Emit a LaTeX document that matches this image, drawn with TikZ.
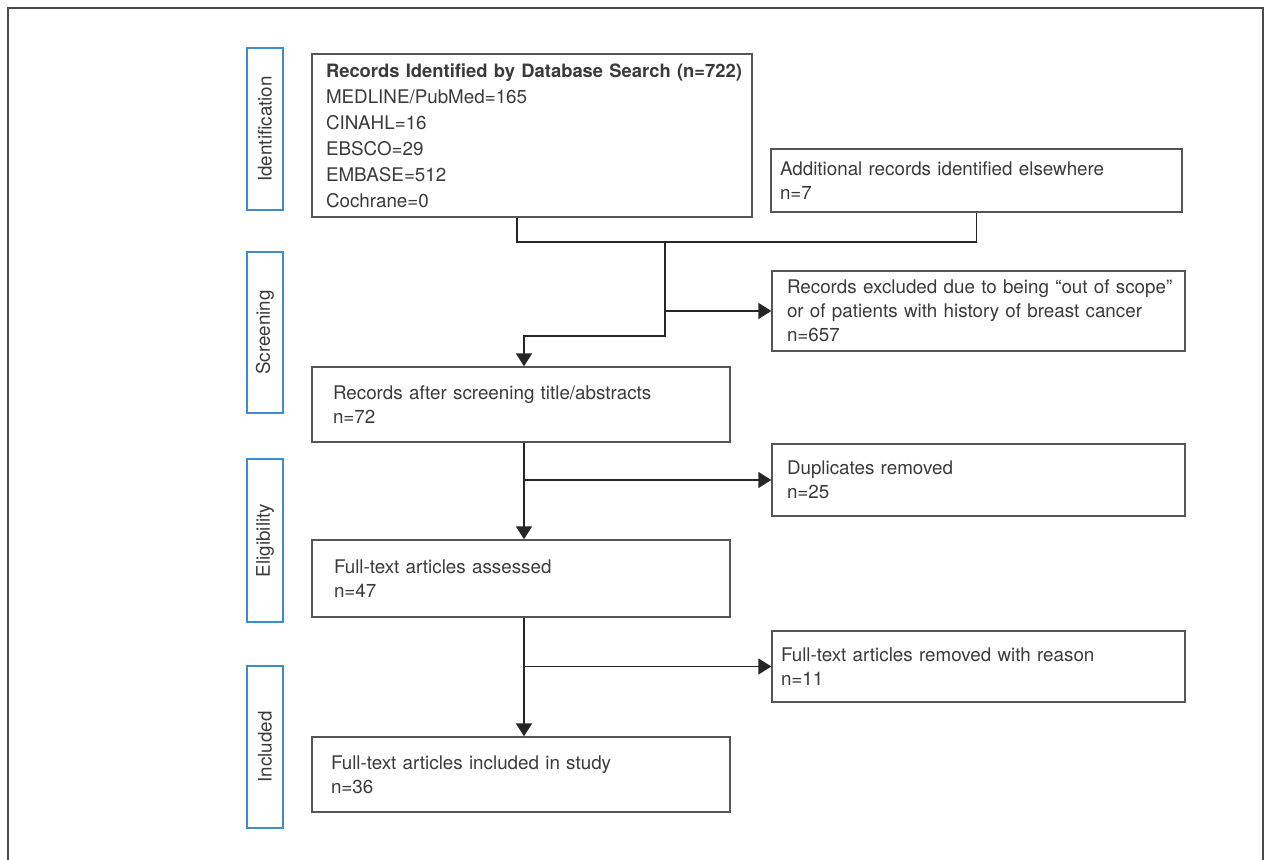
\documentclass[tikz,border=0pt]{standalone}
\usepackage{fontspec}
\setmainfont{TeX Gyre Heros}
\usetikzlibrary{arrows.meta,positioning,calc}
\definecolor{phaseblue}{HTML}{3F8CCB}
\definecolor{boxgray}{HTML}{555555}
\definecolor{inkgray}{HTML}{3A3A3A}

\begin{document}
\begin{tikzpicture}[x=0.5pt,y=-0.5pt,
    flowbox/.style={draw=boxgray, line width=0.7pt, align=left, text=inkgray,
      font=\fontsize{9.4}{12}\selectfont, inner ysep=0pt},
    phasebox/.style={draw=phaseblue, line width=0.9pt, rotate=90, text=inkgray,
      font=\fontsize{9.4}{12}\selectfont, minimum height=18pt, inner sep=0pt},
    link/.style={draw=black!85, line width=0.8pt},
    arrowlink/.style={link, -{Triangle[length=6.5pt,width=8pt]}}]
    \useasboundingbox (0,0) rectangle (1264,860);
    \draw[draw=black!70, line width=1pt] (8,870) -- (8,8) -- (1262.5,8) -- (1262.5,870);

    % phases
    \node[phasebox, minimum width=81pt] (idphase) at (265,129) {Identification};
    \node[phasebox, minimum width=80.5pt] (scphase) at (265,332.5) {Screening};
    \node[phasebox, minimum width=81.5pt] (elphase) at (265,540.5) {Eligibility};
    \node[phasebox, minimum width=81pt] (inphase) at (265,747) {Included};

    % boxes
    \node[flowbox, inner xsep=7pt, text width=206pt, minimum height=81.5pt,
      font=\fontsize{9.4}{13}\selectfont] (search) at (532,135.5)
      {\mbox{\fontsize{9.2}{13}\selectfont\textbf{Records Identified by Database Search (n=722)}}\\MEDLINE/PubMed=165\\CINAHL=16\\EBSCO=29\\EMBASE=512\\Cochrane=0};
    \node[flowbox, inner xsep=4.5pt, text width=196.5pt, minimum height=31.5pt] (extra) at (976.5,180.5)
      {Additional records identified elsewhere\\n=7};
    \node[flowbox, inner xsep=7.5pt, text width=191.5pt, minimum height=40pt] (excluded) at (978.5,311)
      {\mbox{Records excluded due to being “out of scope”}\\or of patients with history of breast cancer\\n=657};
    \node[flowbox, inner xsep=10.5pt, text width=188pt, minimum height=37.5pt] (screened) at (521,404.5)
      {Records after screening title/abstracts\\n=72};
    \node[flowbox, inner xsep=7.5pt, text width=191.5pt, minimum height=36pt] (dupes) at (978.5,480)
      {Duplicates removed\\n=25};
    \node[flowbox, inner xsep=11pt, text width=187pt, minimum height=38.5pt] (assessed) at (521,578.5)
      {Full-text articles assessed\\n=47};
    \node[flowbox, inner xsep=4.5pt, text width=197.5pt, minimum height=35.5pt] (removed) at (978.5,666.5)
      {Full-text articles removed with reason\\n=11};
    \node[flowbox, inner xsep=9.5pt, text width=190pt, minimum height=37.5pt] (final) at (521,774.5)
      {Full-text articles included in study\\n=36};

    % connectors
    \coordinate (merge) at (665,242);
    \coordinate (bend) at (665,336);
    \coordinate (spine) at (524,0);
    \draw[link] ([xshift=-7.5pt]search.south) |- (merge) -| (extra.south);
    \draw[arrowlink] (merge) -- (bend) -| (screened.north -| spine);
    \draw[arrowlink] (excluded.west -| merge) -- (excluded.west);
    \draw[arrowlink] (screened.south -| spine) -- (assessed.north -| spine);
    \draw[arrowlink] (dupes.west -| spine) -- (dupes.west);
    \draw[arrowlink] (assessed.south -| spine) -- (final.north -| spine);
    \draw[arrowlink] (removed.west -| spine) -- (removed.west);
  \end{tikzpicture}
\end{document}
